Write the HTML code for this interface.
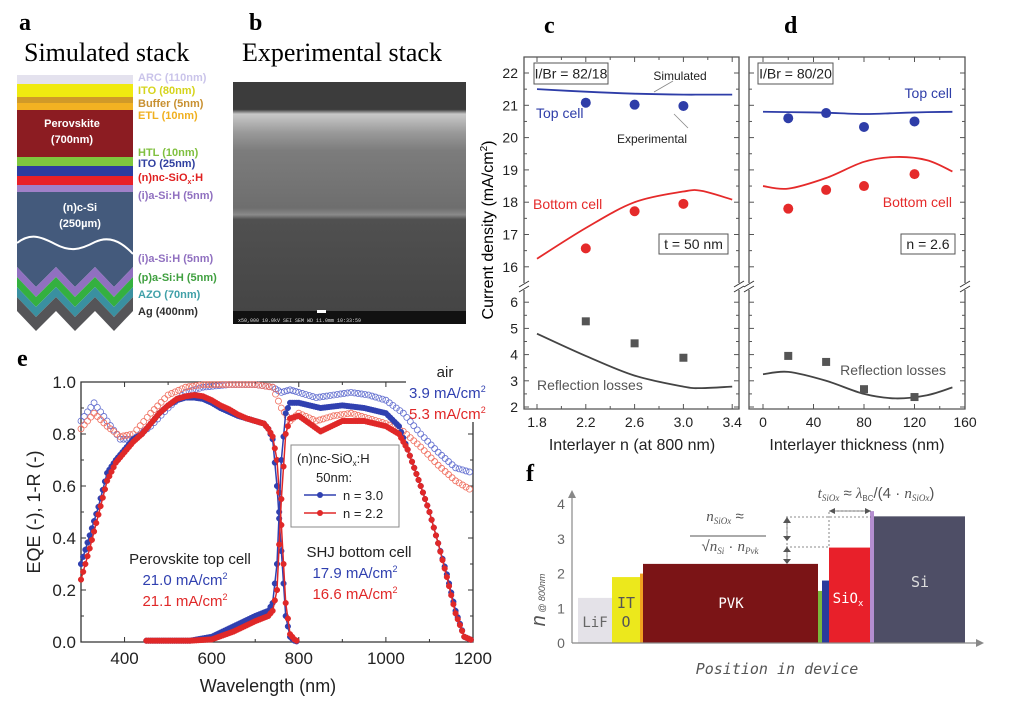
<!DOCTYPE html>
<html><head><meta charset="utf-8"><style>
html,body{margin:0;padding:0;background:#fff;}
svg{display:block;font-family:"Liberation Sans",sans-serif;}
.serif{font-family:"Liberation Serif",serif;}
</style></head><body>
<svg id="fig" width="1020" height="701" viewBox="0 0 1020 701" xmlns="http://www.w3.org/2000/svg">
<g>
<text class="serif" x="19" y="30" font-size="24" font-weight="bold">a</text>
<text class="serif" x="24" y="61" font-size="26">Simulated stack</text>
<rect x="17" y="75" width="116" height="9" fill="#e4e2ee"/>
<rect x="17" y="84" width="116" height="13" fill="#f0ea10"/>
<rect x="17" y="97" width="116" height="6" fill="#d09a28"/>
<rect x="17" y="103" width="116" height="7" fill="#f2b222"/>
<rect x="17" y="110" width="116" height="47" fill="#8c1c22"/>
<rect x="17" y="157" width="116" height="9" fill="#7ec63e"/>
<rect x="17" y="166" width="116" height="10" fill="#2c3ca0"/>
<rect x="17" y="176" width="116" height="9" fill="#e82028"/>
<rect x="17" y="185" width="116" height="7" fill="#a080c8"/>
<path d="M17 192 H133 V267 L114 287 L95 267 L75 287 L56 267 L36 287 L17 267 Z" fill="#445a7c"/>
<path d="M17 267 L36 287 L56 267 L75 287 L95 267 L114 287 L133 267 V277 L114 297 L95 277 L75 297 L56 277 L36 297 L17 277 Z" fill="#9070c0"/>
<path d="M17 277 L36 297 L56 277 L75 297 L95 277 L114 297 L133 277 V287 L114 307 L95 287 L75 307 L56 287 L36 307 L17 287 Z" fill="#34b040"/>
<path d="M17 287 L36 307 L56 287 L75 307 L95 287 L114 307 L133 287 V297 L114 317 L95 297 L75 317 L56 297 L36 317 L17 297 Z" fill="#3a90a0"/>
<path d="M17 297 L36 317 L56 297 L75 317 L95 297 L114 317 L133 297 V311 L114 331 L95 311 L75 331 L56 311 L36 331 L17 311 Z" fill="#555558"/>
<path d="M17 243 C30 233 40 236 55 244 C70 252 80 250 95 242 C108 236 120 240 133 254" stroke="#fff" stroke-width="2" fill="none"/>
<g font-size="11" font-weight="bold" fill="#fff" text-anchor="middle">
<text x="72" y="127">Perovskite</text>
<text x="72" y="143">(700nm)</text>
<text x="80" y="211">(n)c-Si</text>
<text x="80" y="227">(250µm)</text>
</g>
<g font-size="11" font-weight="bold">
<text x="138" y="81" fill="#cac4ea">ARC (110nm)</text>
<text x="138" y="94" fill="#d6d41c">ITO (80nm)</text>
<text x="138" y="107" fill="#c89030">Buffer (5nm)</text>
<text x="138" y="119" fill="#f0b020">ETL (10nm)</text>
<text x="138" y="156" fill="#80c040">HTL (10nm)</text>
<text x="138" y="167" fill="#3040a0">ITO (25nm)</text>
<text x="138" y="181" fill="#e02020">(n)nc-SiO<tspan font-size="7" dy="3">x</tspan><tspan dy="-3">:H</tspan></text>
<text x="138" y="199" fill="#9070c0">(i)a-Si:H (5nm)</text>
<text x="138" y="262" fill="#9070c0">(i)a-Si:H (5nm)</text>
<text x="138" y="281" fill="#40a040">(p)a-Si:H (5nm)</text>
<text x="138" y="298" fill="#40a0a8">AZO (70nm)</text>
<text x="138" y="315" fill="#303030">Ag (400nm)</text>
</g>
</g>
<g>
<text class="serif" x="249" y="30" font-size="24" font-weight="bold">b</text>
<text class="serif" x="242" y="61" font-size="26">Experimental stack</text>
<defs><linearGradient id="semg" x1="0" y1="0" x2="0" y2="1">
<stop offset="0" stop-color="#3c3c3c"/><stop offset="0.12" stop-color="#3c3c3c"/><stop offset="0.14" stop-color="#c8c8c8"/><stop offset="0.22" stop-color="#9a9a9a"/><stop offset="0.3" stop-color="#7c7c7c"/><stop offset="0.55" stop-color="#6e6e6e"/><stop offset="0.58" stop-color="#8a8a8a"/><stop offset="0.6" stop-color="#505050"/><stop offset="1" stop-color="#454545"/></linearGradient></defs>
<rect x="233" y="82" width="233" height="229" fill="url(#semg)"/>
<rect x="233" y="311" width="233" height="13" fill="#111"/>
<rect x="317" y="310" width="9" height="3" fill="#fff"/>
<text x="238" y="322" font-size="5" fill="#ddd" font-family="Liberation Mono,monospace">x50,000   10.0kV SEI   SEM  WD 11.0mm 10:33:59</text>
</g>
<g id="pcd">
<text class="serif" x="544" y="33" font-size="24" font-weight="bold">c</text>
<text class="serif" x="784" y="33" font-size="24" font-weight="bold">d</text>
<text transform="translate(493,230) rotate(-90)" text-anchor="middle" font-size="16">Current density (mA/cm<tspan font-size="10" dy="-6">2</tspan><tspan dy="6">)</tspan></text>
</g>
<g id="pe">
<text class="serif" x="17" y="366" font-size="24" font-weight="bold">e</text>
</g>
<g id="pf">
<text class="serif" x="526" y="481" font-size="24" font-weight="bold">f</text>
</g>
</svg>
<script>
const NS='http://www.w3.org/2000/svg';
function mk(parent,tag,attrs,text){const e=document.createElementNS(NS,tag);for(const k in attrs)e.setAttribute(k,attrs[k]);if(text!==undefined)e.textContent=text;parent.appendChild(e);return e;}
function smooth(pts){let d='M'+pts[0][0]+' '+pts[0][1];for(let i=0;i<pts.length-1;i++){const p0=pts[i-1]||pts[i],p1=pts[i],p2=pts[i+1],p3=pts[i+2]||p2;const c1=[p1[0]+(p2[0]-p0[0])/6,p1[1]+(p2[1]-p0[1])/6],c2=[p2[0]-(p3[0]-p1[0])/6,p2[1]-(p3[1]-p1[1])/6];d+=' C'+c1[0].toFixed(1)+' '+c1[1].toFixed(1)+' '+c2[0].toFixed(1)+' '+c2[1].toFixed(1)+' '+p2[0].toFixed(1)+' '+p2[1].toFixed(1);}return d;}

const cSimX=[1.8,2.2,2.6,3.0,3.15,3.4];
const cTopSim=[21.5,21.42,21.36,21.33,21.33,21.33];
const cBotSim=[16.25,17.2,18.0,18.33,18.35,18.08];
const cRefSim=[4.8,3.95,3.2,2.78,2.72,2.78];
const cExpX=[2.2,2.6,3.0];
const cTopExp=[21.08,21.02,20.98];
const cBotExp=[16.57,17.72,17.95];
const cRefExp=[5.27,4.43,3.88];
const cXTicks=['1.8','2.2','2.6','3.0','3.4'];
const dSimX=[0,20,50,80,105,130,150];
const dTopSim=[20.8,20.79,20.77,20.73,20.76,20.79,20.8];
const dBotSim=[18.5,18.42,18.75,19.25,19.4,19.3,18.95];
const dRefSim=[3.25,3.34,3.0,2.5,2.33,2.45,2.75];
const dExpX=[20,50,80,120];
const dTopExp=[20.6,20.76,20.33,20.5];
const dBotExp=[17.8,18.38,18.5,18.87];
const dRefExp=[3.95,3.72,2.68,2.38];
const dXTicks=['0','40','80','120','160'];
const cdYUpper=[16,17,18,19,20,21,22];
const cdYLower=[2,3,4,5,6];

function yCD(v){return v>=14?73+(22-v)*32.3:407-(v-2)*26.2;}
function xC(v){return 537+(v-1.8)/0.4*48.8;}
function xD(v){return 763+v/40*50.5;}
const pcd=document.getElementById('pcd');
function framePanel(x0,x1,name){
  const g=mk(pcd,'g',{});
  
  
  mk(g,'path',{d:`M${x0} 283 V57 H${x1} V283 M${x0} 290 V409 H${x1} V290`,stroke:'#555',fill:'none','stroke-width':1.3});
  mk(g,'path',{d:`M${x0-5} 287 L${x0+5} 281 M${x0-5} 292 L${x0+5} 286 M${x1-5} 287 L${x1+5} 281 M${x1-5} 292 L${x1+5} 286`,stroke:'#333','stroke-width':1});
  return g;
}
function drawCD(name,x0,x1,xs,xTicks,xTickVals,simX,top,bot,ref,expX,tE,bE,rE,minorStep){
  const g=framePanel(x0,x1,name);
  cdYUpper.concat(cdYLower).forEach(v=>{const y=yCD(v);
    mk(g,'line',{x1:x0,x2:x0+5,y1:y,y2:y,stroke:'#555'});mk(g,'line',{x1:x1,x2:x1-5,y1:y,y2:y,stroke:'#555'});
    const y2=yCD(v+0.5); if(v!==22&&v!==6){mk(g,'line',{x1:x0,x2:x0+3,y1:y2,y2:y2,stroke:'#555'});mk(g,'line',{x1:x1,x2:x1-3,y1:y2,y2:y2,stroke:'#555'});}
    if(name==='panel-c'){const t=mk(g,'text',{x:x0-6,y:y+5,'font-size':14,'text-anchor':'end',fill:'#222'},String(v));
      
      }
  });
  xTickVals.forEach((v,i)=>{const x=xs(v);
    mk(g,'line',{x1:x,x2:x,y1:409,y2:404,stroke:'#555'});mk(g,'line',{x1:x,x2:x,y1:57,y2:62,stroke:'#555'});
    const xm=xs(v+minorStep);if(xm<x1){mk(g,'line',{x1:xm,x2:xm,y1:409,y2:406,stroke:'#555'});mk(g,'line',{x1:xm,x2:xm,y1:57,y2:60,stroke:'#555'});}
    const t=mk(g,'text',{x:x,y:427,'font-size':14,'text-anchor':'middle',fill:'#222'},xTicks[i]);
    
    
  });
  [[top,'#2e3da8','top-cell-simulated'],[bot,'#e52a2a','bottom-cell-simulated'],[ref,'#444','reflection-simulated']].forEach(([arr,c,n])=>{
    const p=mk(g,'path',{d:smooth(simX.map((x,i)=>[xs(x),yCD(arr[i])])),stroke:c,'stroke-width':1.8,fill:'none'});
    
    
  });
  expX.forEach((x,i)=>{
    const a=mk(g,'circle',{cx:xs(x),cy:yCD(tE[i]),r:5,fill:'#2e3da8'});
    
    
    const b=mk(g,'circle',{cx:xs(x),cy:yCD(bE[i]),r:5,fill:'#e52a2a'});
    
    
    const c=mk(g,'rect',{x:xs(x)-4,y:yCD(rE[i])-4,width:8,height:8,fill:'#555'});
    
    
  });
  return g;
}
const gc=drawCD('panel-c',524,739,xC,cXTicks,[1.8,2.2,2.6,3.0,3.4],cSimX,cTopSim,cBotSim,cRefSim,cExpX,cTopExp,cBotExp,cRefExp,0.2);
const gd=drawCD('panel-d',749,965,xD,dXTicks,[0,40,80,120,160],dSimX,dTopSim,dBotSim,dRefSim,dExpX,dTopExp,dBotExp,dRefExp,20);
function lbl(g,x,y,txt,size,fill,name,anchor){const t=mk(g,'text',{x:x,y:y,'font-size':size,fill:fill,'text-anchor':anchor||'start'},txt);
  
  return t;}
function box(g,x,y,w,h,txt,name){const r=mk(g,'rect',{x:x,y:y,width:w,height:h,fill:'#fff',stroke:'#555'});
  
  
  lbl(g,x+w/2,y+h/2+5,txt,14,'#222',name+'-text','middle');}
box(gc,534,63,74,21,'I/Br = 82/18','ibr-box-c');
box(gd,758,63,75,21,'I/Br = 80/20','ibr-box-d');
box(gc,659,234,69,20,'t = 50 nm','thickness-box');
box(gd,901,234,54,20,'n = 2.6','index-box');
lbl(gc,680,80,'Simulated',12,'#222','simulated-annotation','middle');
mk(gc,'line',{x1:673,y1:81,x2:654,y2:92,stroke:'#888','stroke-width':0.8});
lbl(gc,652,143,'Experimental',12,'#222','experimental-annotation','middle');
mk(gc,'line',{x1:688,y1:128,x2:674,y2:114,stroke:'#888','stroke-width':0.8});
lbl(gc,536,118,'Top cell',14,'#2e3da8','top-cell-label-c');
lbl(gc,533,209,'Bottom cell',14,'#e52a2a','bottom-cell-label-c');
lbl(gc,537,390,'Reflection losses',14,'#555','reflection-label-c');
lbl(gd,952,98,'Top cell',14,'#2e3da8','top-cell-label-d','end');
lbl(gd,952,207,'Bottom cell',14,'#e52a2a','bottom-cell-label-d','end');
lbl(gd,946,375,'Reflection losses',14,'#555','reflection-label-d','end');
lbl(gc,632,450,'Interlayer n (at 800 nm)',16,'#222','x-axis-title-c','middle');
lbl(gd,857,450,'Interlayer thickness (nm)',16,'#222','x-axis-title-d','middle');

const eTopBlueX=[300,320,340,360,380,400,420,440,460,480,500,520,540,560,580,600,620,640,660,680,700,720,730,740,750,760,770,780,790,800];
const eTopBlueY=[0.3,0.41,0.52,0.65,0.7,0.74,0.78,0.8,0.84,0.88,0.91,0.93,0.94,0.94,0.935,0.92,0.9,0.885,0.87,0.86,0.85,0.84,0.82,0.78,0.6,0.35,0.1,0.02,0.005,0];
const eTopRedY=[0.24,0.36,0.49,0.62,0.69,0.73,0.77,0.8,0.84,0.88,0.91,0.935,0.945,0.95,0.945,0.93,0.91,0.895,0.875,0.86,0.85,0.84,0.82,0.79,0.7,0.45,0.15,0.03,0.01,0];
const eBotX=[450,550,600,650,700,730,740,750,760,770,780,800,850,900,950,1000,1030,1050,1080,1100,1120,1140,1160,1180,1200];
const eBotBlueY=[0.005,0.005,0.02,0.06,0.1,0.12,0.15,0.3,0.7,0.88,0.92,0.92,0.9,0.91,0.9,0.88,0.83,0.74,0.6,0.5,0.38,0.26,0.12,0.02,0.005];
const eBotRedY=[0.005,0.005,0.01,0.04,0.08,0.1,0.12,0.2,0.55,0.8,0.86,0.87,0.81,0.85,0.85,0.83,0.8,0.74,0.6,0.5,0.38,0.25,0.11,0.02,0.005];
const eRX=[300,330,360,390,420,460,500,540,580,640,700,740,760,780,800,840,880,920,960,1000,1040,1080,1120,1160,1200];
const eRBlueY=[0.85,0.92,0.85,0.78,0.78,0.83,0.9,0.96,0.98,0.99,0.99,0.98,0.96,0.97,0.96,0.94,0.95,0.96,0.95,0.93,0.88,0.8,0.73,0.67,0.65];
const eRRedY=[0.82,0.88,0.83,0.79,0.8,0.88,0.95,0.98,0.99,0.99,0.99,0.98,0.9,0.85,0.88,0.85,0.87,0.88,0.86,0.84,0.81,0.75,0.68,0.62,0.58];
const eXTicks=['400','600','800','1000','1200'];
const eYTicks=['0.0','0.2','0.4','0.6','0.8','1.0'];
function xE(v){return 81+(v-300)/900*392;}
function yE(v){return 642-v*260;}
const pe=document.getElementById('pe');
const fe=mk(pe,'path',{d:'M81 382 H473 V642 H81 Z',stroke:'#333',fill:'none','stroke-width':1.3});


eYTicks.forEach((t,i)=>{const v=i*0.2,y=yE(v);
  mk(pe,'line',{x1:81,x2:86,y1:y,y2:y,stroke:'#333'});mk(pe,'line',{x1:473,x2:468,y1:y,y2:y,stroke:'#333'});
  if(i<5){const y2=yE(v+0.1);mk(pe,'line',{x1:81,x2:84,y1:y2,y2:y2,stroke:'#333'});mk(pe,'line',{x1:473,x2:470,y1:y2,y2:y2,stroke:'#333'});}
  lbl(pe,76,y+6,t,17,'#222','e-y-tick-label','end');});
[400,600,800,1000,1200].forEach((v,i)=>{const x=xE(v);
  mk(pe,'line',{x1:x,x2:x,y1:642,y2:637,stroke:'#333'});mk(pe,'line',{x1:x,x2:x,y1:382,y2:387,stroke:'#333'});
  const xm=xE(v-100);mk(pe,'line',{x1:xm,x2:xm,y1:642,y2:639,stroke:'#333'});mk(pe,'line',{x1:xm,x2:xm,y1:382,y2:385,stroke:'#333'});
  lbl(pe,x,664,eXTicks[i],17,'#222','e-x-tick-label','middle');});
const wh=mk(pe,'rect',{x:406,y:360,width:80,height:62,fill:'#fff'});


function openSeries(xs,ys,c,name){ xs.forEach((x,i)=>{ if(i<xs.length-1){ const x2=xs[i+1],n=Math.max(1,Math.round((x2-x)/8)); for(let k=0;k<n;k++){const f=k/n;const cx=xE(x+(x2-x)*f),cy=yE(ys[i]+(ys[i+1]-ys[i])*f);
  const m=mk(pe,'circle',{cx:cx,cy:cy,r:3,fill:'none',stroke:c,'stroke-width':0.8});
  
  }}});}
function fillSeries(xs,ys,c,name){
  const p=mk(pe,'polyline',{points:xs.map((x,i)=>xE(x)+','+yE(ys[i])).join(' '),stroke:c,'stroke-width':1.5,fill:'none'});
  
  
  xs.forEach((x,i)=>{ if(i<xs.length-1){const x2=xs[i+1],n=Math.max(1,Math.round((x2-x)/5));for(let k=0;k<n;k++){const f=k/n;
  const m=mk(pe,'circle',{cx:xE(x+(x2-x)*f),cy:yE(ys[i]+(ys[i+1]-ys[i])*f),r:2.8,fill:c,stroke:c,'stroke-width':0.5});
  
  }}});}
openSeries(eRX,eRBlueY,'#6470d0','reflection-n3');
openSeries(eRX,eRRedY,'#f07060','reflection-n2');
fillSeries(eTopBlueX,eTopBlueY,'#3040b0','top-eqe-n3');
fillSeries(eTopBlueX,eTopRedY,'#e02828','top-eqe-n2');
fillSeries(eBotX,eBotBlueY,'#3040b0','bottom-eqe-n3');
fillSeries(eBotX,eBotRedY,'#e02828','bottom-eqe-n2');
const lg=mk(pe,'g',{});


mk(lg,'rect',{x:291,y:445,width:108,height:82,fill:'#fff',stroke:'#888'});
lbl(lg,297,463,'(n)nc-SiO',13,'#222','legend-title').innerHTML='(n)nc-SiO<tspan font-size="8" dy="3">x</tspan><tspan dy="-3">:H</tspan>';
lbl(lg,316,482,'50nm:',13,'#222','legend-subtitle');
mk(lg,'line',{x1:304,x2:336,y1:495,y2:495,stroke:'#3040b0','stroke-width':1.5});mk(lg,'circle',{cx:320,cy:495,r:3,fill:'#3040b0'});
lbl(lg,343,500,'n = 3.0',13,'#222','legend-entry-n3');
mk(lg,'line',{x1:304,x2:336,y1:513,y2:513,stroke:'#e02828','stroke-width':1.5});mk(lg,'circle',{cx:320,cy:513,r:3,fill:'#e02828'});
lbl(lg,343,518,'n = 2.2',13,'#222','legend-entry-n2');
lbl(pe,445,377,'air',15,'#222','air-label','middle');
lbl(pe,409,398,'3.9 mA/cm',15,'#3040b0','air-current-n3').innerHTML='3.9 mA/cm<tspan font-size="9" dy="-6">2</tspan>';
lbl(pe,409,419,'5.3 mA/cm',15,'#e02828','air-current-n2').innerHTML='5.3 mA/cm<tspan font-size="9" dy="-6">2</tspan>';
lbl(pe,190,564,'Perovskite top cell',15,'#222','perovskite-top-cell-label','middle');
lbl(pe,185,585,'',15,'#3040b0','top-current-n3','middle').innerHTML='21.0 mA/cm<tspan font-size="9" dy="-6">2</tspan>';
lbl(pe,185,606,'',15,'#e02828','top-current-n2','middle').innerHTML='21.1 mA/cm<tspan font-size="9" dy="-6">2</tspan>';
lbl(pe,359,557,'SHJ bottom cell',15,'#222','shj-bottom-cell-label','middle');
lbl(pe,355,578,'',15,'#3040b0','bottom-current-n3','middle').innerHTML='17.9 mA/cm<tspan font-size="9" dy="-6">2</tspan>';
lbl(pe,355,599,'',15,'#e02828','bottom-current-n2','middle').innerHTML='16.6 mA/cm<tspan font-size="9" dy="-6">2</tspan>';
lbl(pe,268,692,'Wavelength (nm)',18,'#222','e-x-axis-title','middle');
const eyt=lbl(pe,0,0,'EQE (-), 1-R (-)',18,'#222','e-y-axis-title','middle');
eyt.setAttribute('transform','translate(40,512) rotate(-90)');

const fLayers=['LiF','ITO','ETL','PVK','HTL','ITO2','SiOx','aSi','Si'];
const fN=[1.3,1.9,2.0,2.28,1.5,1.8,2.75,3.8,3.65];
const fStart=[0,34,62,65,240,244,251,292,296];
const fEnd=[34,62,65,240,244,251,292,296,387];
const fColors=['#e4e2e8','#ece81c','#f0a020','#7b1416','#7ab83c','#2a3a9c','#e8202a','#b48ed0','#4e4e66'];
const fYTicks=[0,1,2,3,4];
function xF(p){return 578+p;}
function yF(v){return 643-v*34.7;}
const pf=document.getElementById('pf');
fLayers.forEach((n,i)=>{const r=mk(pf,'rect',{x:xF(fStart[i]),y:yF(fN[i]),width:fEnd[i]-fStart[i],height:643-yF(fN[i]),fill:fColors[i]});
  
  });
const fax=mk(pf,'path',{d:'M572 643 V494 M572 643 H980',stroke:'#888','stroke-width':1.2,fill:'none'});


mk(pf,'path',{d:'M568 498 L572 490 L576 498 Z M976 639 L984 643 L976 647 Z',fill:'#888'});
fYTicks.forEach(v=>lbl(pf,561,yF(v)+5,String(v),14,'#666','f-y-tick-label','middle'));
const fyt=lbl(pf,0,0,'',16,'#555','f-y-axis-title','middle');
fyt.innerHTML='<tspan font-style="italic" font-size="20">n</tspan><tspan font-size="9" font-style="italic"> @ 800nm</tspan>';
fyt.setAttribute('transform','translate(545,600) rotate(-90)');
const mono='"DejaVu Sans Mono","Liberation Mono",monospace';
[['LiF',595,627,'#666',14],['IT',626,608,'#555',15],['O',626,627,'#555',15],['PVK',731,608,'#fff',14],['SiO',848,603,'#fff',14],['Si',920,587,'#ddd',15]].forEach(([t,x,y,c,s])=>{
  const e=lbl(pf,x,y,t,s,c,'f-layer-label-'+t.toLowerCase(),'middle');e.setAttribute('font-family',mono);
  if(t==='SiO')e.innerHTML='SiO<tspan font-size="9" dy="3">x</tspan>';});
const pid=lbl(pf,777,674,'Position in device',15,'#555','f-x-axis-title','middle');
pid.setAttribute('font-family',mono);pid.setAttribute('font-style','italic');
lbl(pf,725,521,'',15,'#555','f-formula-n','middle').innerHTML='<tspan font-style="italic" font-family="Liberation Serif">n</tspan><tspan font-size="9" dy="3" font-style="italic" font-family="Liberation Serif">SiOx</tspan><tspan dy="-3"> ≈</tspan>';
lbl(pf,730,551,'',15,'#555','f-formula-sqrt','middle').innerHTML='√<tspan font-style="italic" font-family="Liberation Serif">n</tspan><tspan font-size="9" dy="3" font-style="italic" font-family="Liberation Serif">Si</tspan><tspan dy="-3"> · </tspan><tspan font-style="italic" font-family="Liberation Serif">n</tspan><tspan font-size="9" dy="3" font-style="italic" font-family="Liberation Serif">Pvk</tspan>';
mk(pf,'line',{x1:690,x2:766,y1:536,y2:536,stroke:'#555'});
lbl(pf,876,498,'',15,'#555','f-formula-t','middle').innerHTML='<tspan font-style="italic" font-family="Liberation Serif">t</tspan><tspan font-size="9" dy="3" font-style="italic" font-family="Liberation Serif">SiOx</tspan><tspan dy="-3"> ≈ </tspan><tspan font-style="italic" font-family="Liberation Serif">λ</tspan><tspan font-size="8" dy="3">BC</tspan><tspan dy="-3">/(4 · </tspan><tspan font-style="italic" font-family="Liberation Serif">n</tspan><tspan font-size="9" dy="3" font-style="italic" font-family="Liberation Serif">SiOx</tspan><tspan dy="-3">)</tspan>';
const dims=mk(pf,'g',{stroke:'#666','stroke-width':0.8,fill:'none'});


mk(dims,'path',{d:'M786 517 H871 M786 547 H829 M829 512 V547 M787 519 V563 M829 511 H871','stroke-dasharray':'2 2'});
mk(dims,'path',{d:'M787 519 V540 M787 549 V563 M831 511 H869'});
mk(pf,'path',{d:'M783 523 L787 517 L791 523 Z M783 536 L787 541 L791 536 Z M783 552 L787 547 L791 552 Z M783 559 L787 564 L791 559 Z M835 508 L829 511 L835 514 Z M865 508 L871 511 L865 514 Z',fill:'#555'});
</script>
</body></html>
